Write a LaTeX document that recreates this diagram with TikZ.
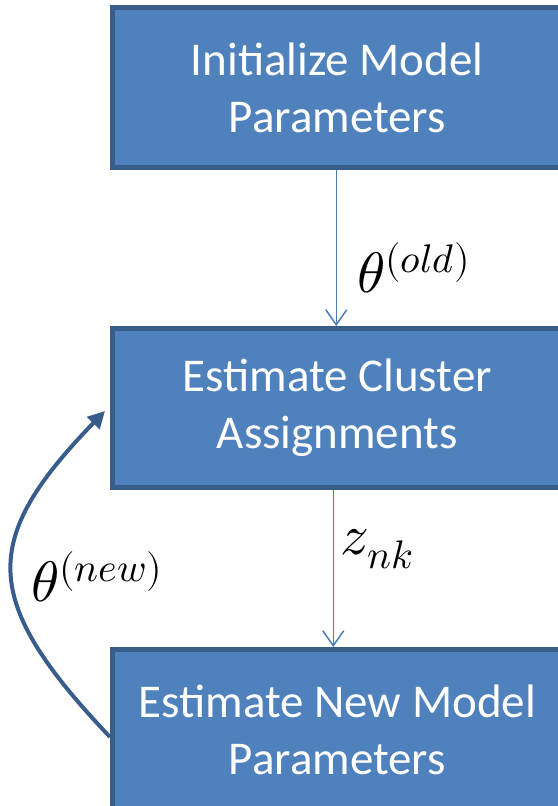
\documentclass[tikz,border=0pt]{standalone}
\usepackage{fontspec}
\usepackage{unicode-math}
\setmainfont{Carlito}
\setmathfont{Latin Modern Math}
\usetikzlibrary{arrows.meta}
\definecolor{boxfill}{HTML}{4F81BD}
\definecolor{boxedge}{HTML}{385D8A}
\definecolor{thinarrow}{HTML}{4A7EBB}
\begin{document}
\begin{tikzpicture}[x=1pt,y=-1pt,
  stagebox/.style={draw=boxedge, fill=boxfill, line width=5pt,
    minimum width=449.5pt, text=white, align=center,
    font=\fontsize{47}{57}\selectfont, inner sep=0pt},
  flow/.style={draw=thinarrow, line width=1.5pt,
    -{Straight Barb[length=15pt,width=21pt,line width=1.5pt]}},
  loop/.style={draw=boxedge, line width=4pt,
    -{Triangle[length=17pt,width=17pt]}},
  mathlabel/.style={font=\fontsize{57}{68}\selectfont, inner sep=0pt}]
  \useasboundingbox (0,0) rectangle (557,806);

  % the three stages
  \node[stagebox, minimum height=160pt] (init) at (337.25,87.5)
    {Initialize Model\\Parameters};
  \node[stagebox, minimum height=159pt] (estep) at (337.25,408)
    {Estimate Cluster\\Assignments};
  \node[stagebox, minimum height=160.5pt] (mstep) at (337.25,729.75)
    {Estimate New Model\\Parameters};

  % forward flow
  \draw[flow] ([xshift=-1pt]init.south) -- ([xshift=-1pt]estep.north);
  \draw[flow] ([xshift=-4pt]estep.south) -- ([xshift=-4pt]mstep.north);

  % feedback loop
  \coordinate (loopend) at (105,411);
  \draw[loop] (mstep.west |- 0,737) .. controls (-20,600) and (-20,540) .. (loopend);

  % labels
  \node[mathlabel] (lold) at (414,268) {$\theta^{(old)}$};
  \node[mathlabel] (lz) at (377,549) {$z_{nk}$};
  \node[mathlabel] (lnew) at (97,577) {$\theta^{(new)}$};
\end{tikzpicture}
\end{document}
